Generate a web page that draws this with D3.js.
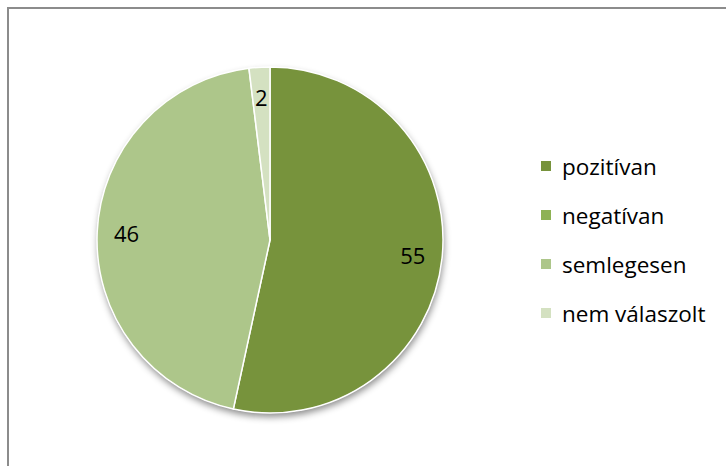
<!DOCTYPE html>
<html>
<head>
<meta charset="utf-8">
<script src="https://cdn.jsdelivr.net/npm/d3@7"></script>
<style>
  html, body { margin: 0; padding: 0; background: #fff; }
  svg { display: block; }
  text { font-family: "Open Sans", "Liberation Sans", sans-serif; fill: #000; }
</style>
</head>
<body>
<svg id="chart" width="726" height="466"></svg>
<script>
// Responses to the survey question
const categories = ["pozitívan", "negatívan", "semlegesen", "nem válaszolt"];
const values = [55, 0, 46, 2];
const colors = ["#77933C", "#8EB254", "#ADC68A", "#D4E1C1"];

const svg = d3.select("#chart");
const W = 726, H = 466;

// chart frame
svg.append("rect")
  .attr("x", 8).attr("y", 8)
  .attr("width", W).attr("height", H)
  .attr("fill", "#fff")
  .attr("stroke", "#8c8c8c")
  .attr("stroke-width", 2);

const defs = svg.append("defs");
const shadow = defs.append("filter").attr("id", "pieShadow")
  .attr("x", "-20%").attr("y", "-20%").attr("width", "140%").attr("height", "140%");
shadow.append("feDropShadow")
  .attr("dx", 1).attr("dy", 4)
  .attr("stdDeviation", 3.5)
  .attr("flood-color", "#000")
  .attr("flood-opacity", 0.45);

const cx = 270, cy = 240, r = 173;
const data = categories.map((c, i) => ({ cat: c, value: values[i], color: colors[i] }));

const pie = d3.pie().sort(null).value(d => d.value);
const arcs = pie(data);
const arc = d3.arc().innerRadius(0).outerRadius(r);
const labelArc = d3.arc().innerRadius(r * 0.83).outerRadius(r * 0.83);

const g = svg.append("g").attr("transform", `translate(${cx},${cy})`);

// soft shadow under the whole pie
g.append("circle").attr("r", r).attr("fill", "#fff").attr("filter", "url(#pieShadow)");

g.selectAll("path.slice")
  .data(arcs.filter(a => a.data.value > 0))
  .join("path")
  .attr("class", "slice")
  .attr("d", arc)
  .attr("fill", d => d.data.color)
  .attr("stroke", "#fff")
  .attr("stroke-width", 1.5)
  .attr("stroke-linejoin", "round");

g.selectAll("text.val")
  .data(arcs.filter(a => a.data.value > 0))
  .join("text")
  .attr("class", "val")
  .attr("transform", d => `translate(${labelArc.centroid(d)})`)
  .attr("text-anchor", "middle")
  .attr("dominant-baseline", "central")
  .attr("font-size", 22)
  .text(d => d.data.value);

// legend
const legend = svg.append("g").attr("transform", "translate(541,166)");
const item = legend.selectAll("g")
  .data(data)
  .join("g")
  .attr("transform", (d, i) => `translate(0,${i * 49})`);
item.append("rect")
  .attr("x", 0).attr("y", -5)
  .attr("width", 10).attr("height", 10)
  .attr("fill", d => d.color);
item.append("text")
  .attr("x", 21).attr("y", 0)
  .attr("dominant-baseline", "central")
  .attr("font-size", 22.5)
  .text(d => d.cat);
</script>
</body>
</html>
